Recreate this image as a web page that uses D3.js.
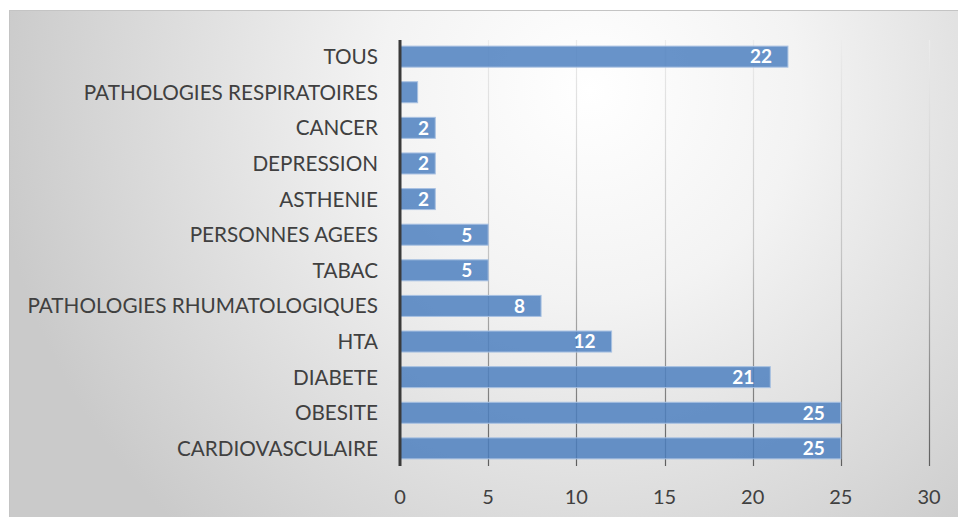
<!DOCTYPE html>
<html>
<head>
<meta charset="utf-8">
<script src="https://cdn.jsdelivr.net/npm/d3@7"></script>
<style>
  body { margin: 0; background: #fff; }
</style>
</head>
<body>
<div id="chart"></div>
<script>
// data, top to bottom
var categories = ["TOUS", "PATHOLOGIES RESPIRATOIRES", "CANCER", "DEPRESSION", "ASTHENIE",
  "PERSONNES AGEES", "TABAC", "PATHOLOGIES RHUMATOLOGIQUES", "HTA", "DIABETE", "OBESITE", "CARDIOVASCULAIRE"];
var values = [22, 1, 2, 2, 2, 5, 5, 8, 12, 21, 25, 25];
var showLabel = [true, false, true, true, true, true, true, true, true, true, true, true];
var xTicks = [0, 5, 10, 15, 20, 25, 30];

var rows = categories.map(function(c, i) {
  return { cat: c, value: values[i], label: showLabel[i] };
});

var W = 958, H = 517;
var font = "Lato, 'Open Sans', sans-serif";

var svg = d3.select("#chart")
  .append("svg")
  .attr("width", W)
  .attr("height", H);

var defs = svg.append("defs");

var bg = defs.append("radialGradient")
  .attr("id", "bg")
  .attr("gradientUnits", "userSpaceOnUse")
  .attr("cx", 590).attr("cy", 90).attr("r", 600);
bg.append("stop").attr("offset", "0").attr("stop-color", "#ffffff");
bg.append("stop").attr("offset", "0.35").attr("stop-color", "#f3f3f3");
bg.append("stop").attr("offset", "1").attr("stop-color", "#cacaca");

var gg = defs.append("linearGradient")
  .attr("id", "grid")
  .attr("gradientUnits", "userSpaceOnUse")
  .attr("x1", 0).attr("y1", 40).attr("x2", 0).attr("y2", 466);
gg.append("stop").attr("offset", "0").attr("stop-color", "#ececec");
gg.append("stop").attr("offset", "0.5").attr("stop-color", "#c4c4c4");
gg.append("stop").attr("offset", "1").attr("stop-color", "#5e5e5e");

// chart area
svg.append("rect")
  .attr("x", 9.5).attr("y", 10.5)
  .attr("width", W - 9).attr("height", H - 10)
  .attr("fill", "url(#bg)")
  .attr("stroke", "#c4c4c4");

var x = d3.scaleLinear().domain([0, 30]).range([400, 929]);
var y = d3.scaleBand().domain(categories).range([39, 466]).paddingInner(0.41).paddingOuter(0.2);

// gridlines
svg.append("g")
  .selectAll("line")
  .data(xTicks.slice(1))
  .enter().append("line")
  .attr("x1", function(d) { return Math.round(x(d)) + 0.5; })
  .attr("x2", function(d) { return Math.round(x(d)) + 0.5; })
  .attr("y1", 40).attr("y2", 466)
  .attr("stroke", "url(#grid)")
  .attr("stroke-width", 1.2);

// bars
svg.append("g")
  .selectAll("rect")
  .data(rows)
  .enter().append("rect")
  .attr("x", x(0))
  .attr("y", function(d) { return y(d.cat); })
  .attr("width", function(d) { return x(d.value) - x(0); })
  .attr("height", y.bandwidth())
  .attr("fill", "rgba(78,128,191,0.85)")
  .attr("stroke", "#a8c1e2")
  .attr("stroke-width", 1);

// value labels
svg.append("g")
  .selectAll("text")
  .data(rows.filter(function(d) { return d.label; }))
  .enter().append("text")
  .attr("x", function(d) { return Math.max(x(d.value) - 16, x(0) + 29); })
  .attr("y", function(d) { return y(d.cat) + y.bandwidth() / 2; })
  .attr("dy", "0.36em")
  .attr("text-anchor", "end")
  .attr("font-family", font)
  .attr("font-weight", "bold")
  .attr("font-size", "19px")
  .attr("fill", "#fff")
  .text(function(d) { return d.value; });

// category labels
svg.append("g")
  .selectAll("text")
  .data(categories)
  .enter().append("text")
  .attr("x", 378)
  .attr("y", function(d) { return y(d) + y.bandwidth() / 2; })
  .attr("dy", "0.36em")
  .attr("text-anchor", "end")
  .attr("font-family", font)
  .attr("font-size", "20.7px")
  .attr("fill", "#404040")
  .text(function(d) { return d; });

// y axis line
svg.append("line")
  .attr("x1", x(0)).attr("x2", x(0))
  .attr("y1", 40).attr("y2", 466)
  .attr("stroke", "#3a3a3a")
  .attr("stroke-width", 3);

// x tick labels
svg.append("g")
  .selectAll("text")
  .data(xTicks)
  .enter().append("text")
  .attr("x", function(d) { return x(d); })
  .attr("y", 497)
  .attr("dy", "0.36em")
  .attr("text-anchor", "middle")
  .attr("font-family", font)
  .attr("font-size", "20px")
  .attr("fill", "#404040")
  .text(function(d) { return d; });
</script>
</body>
</html>
